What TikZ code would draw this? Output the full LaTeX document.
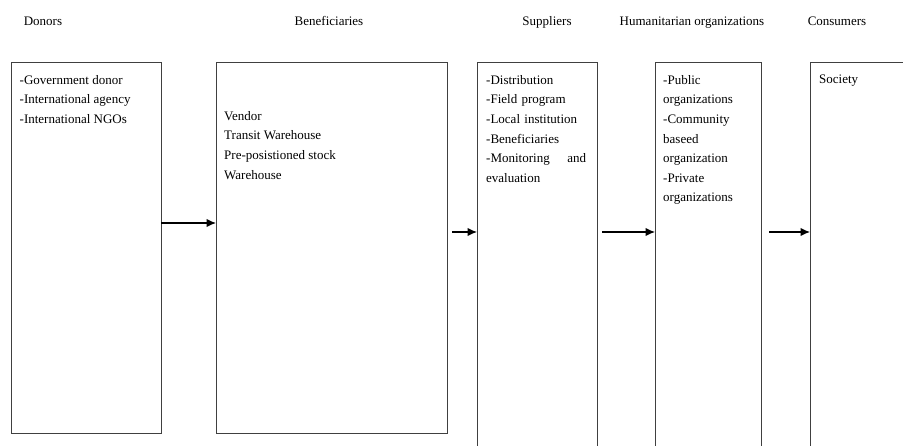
\documentclass[tikz,border=0pt]{standalone}
\usepackage{fontspec}
\setmainfont{Liberation Serif}
\usetikzlibrary{positioning,arrows.meta}

\tikzset{
	box/.style={draw=black!75,line width=0.8pt,inner sep=0pt,outer sep=0pt,anchor=north west},
	txt/.style={inner sep=0pt,align=left,font=\fontsize{13}{19.6}\selectfont},
	flow/.style={line width=1.3pt,-{Latex[length=9.5pt,width=8.5pt]}}
}

\begin{document}
\begin{tikzpicture}
				\clip (0pt,0pt) rectangle (903pt,-446pt);
				\node[box,minimum width=149.5pt,minimum height=371pt] (don) at (11.5pt,-62pt) {};
				\node[box,minimum width=231pt,minimum height=371pt,right=55pt of don.north east,anchor=north west] (ben) {};
				\node[box,minimum width=120pt,minimum height=420pt,right=30pt of ben.north east,anchor=north west] (sup) {};
				\node[box,minimum width=106pt,minimum height=420pt,right=58pt of sup.north east,anchor=north west] (hum) {};
				\node[box,minimum width=120pt,minimum height=420pt,right=49pt of hum.north east,anchor=north west] (con) {};
				
				\node[txt,anchor=base] (dont) at (43pt,-26pt) {Donors};
				\node[txt,anchor=base] (bent) at (329pt,-26pt) {Beneficiaries};
				\node[txt,anchor=base] (supt) at (547pt,-26pt) {Suppliers};
				\node[txt,anchor=base] (humt) at (692pt,-26pt) {Humanitarian organizations};
				\node[txt,anchor=base] (cont) at (837pt,-26pt) {Consumers};
				
				\node[txt,below right=13pt and 8pt of don.north west] (donl) {-Government donor\\-International agency\\-International NGOs};
				\node[txt,below right=49pt and 8pt of ben.north west] (benl) {Vendor\\Transit Warehouse\\Pre-posistioned stock\\Warehouse};
				\node[txt,text width=100pt,below right=13pt and 9pt of sup.north west] (supl) {-Distribution\\-Field program\\-Local institution\\-Beneficiaries\\-Monitoring\hfill and\\evaluation};
				\node[txt,below right=13pt and 8pt of hum.north west] (huml) {-Public\\organizations\\-Community\\baseed\\organization\\-Private\\organizations};
				\node[txt,below right=13pt and 9pt of con.north west] (conl) {Society};
				
				\draw[flow] ([yshift=24.5pt]don.east) -- ([yshift=24.5pt]ben.west);
				\draw[flow,shorten <=5pt] ([yshift=15.5pt]ben.east) -- ([yshift=40pt]sup.west);
				\draw[flow,shorten <=5pt] ([yshift=40pt]sup.east) -- ([yshift=40pt]hum.west);
				\draw[flow,shorten <=8pt] ([yshift=40pt]hum.east) -- ([yshift=40pt]con.west);
			\end{tikzpicture}
\end{document}
